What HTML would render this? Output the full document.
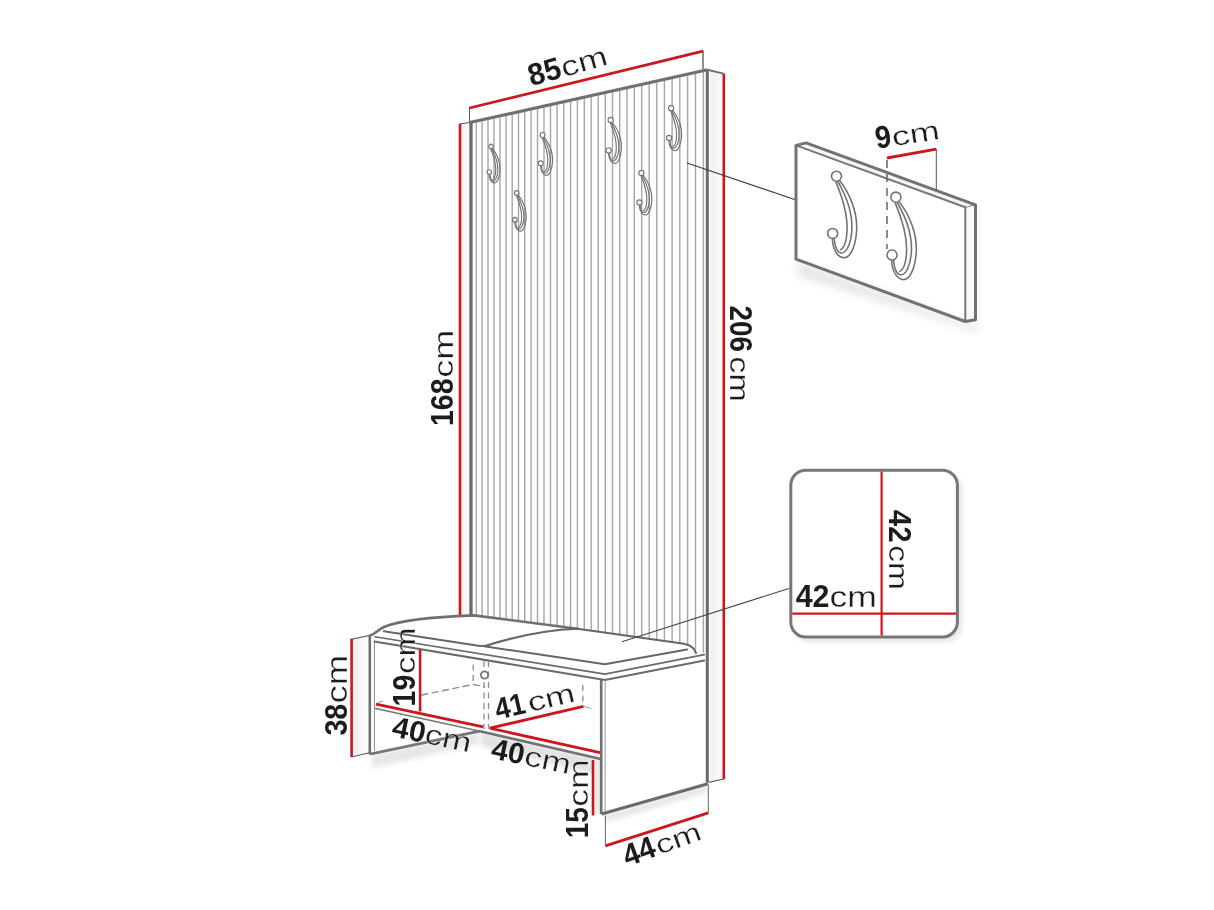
<!DOCTYPE html>
<html><head><meta charset="utf-8"><style>
html,body{margin:0;padding:0;background:#fff;}
svg{display:block;font-family:"Liberation Sans",sans-serif;will-change:transform;}
</style></head><body>
<svg width="1214" height="910" viewBox="0 0 1214 910">
<rect width="1214" height="910" fill="#fff"/>
<defs>
<linearGradient id="shb" x1="0" y1="0" x2="0" y2="1"><stop offset="0" stop-color="#d8d8d8"/><stop offset="1" stop-color="#fff" stop-opacity="0"/></linearGradient>
<filter id="blur4" x="-20%" y="-20%" width="140%" height="140%"><feGaussianBlur stdDeviation="4"/></filter>
<filter id="blur2" x="-20%" y="-20%" width="140%" height="140%"><feGaussianBlur stdDeviation="2.5"/></filter>
</defs>
<polygon points="372,755 479,732 479,744 372,768" fill="#e6e6e6" filter="url(#blur2)"/>
<polygon points="481,732 600,759 600,776 481,746" fill="#e2e2e2" filter="url(#blur2)"/>
<polygon points="594,760 600,760 600,813 594,815" fill="#ececec"/>
<polygon points="604,815 708,785 708,792 606,822" fill="#e4e4e4" filter="url(#blur2)"/>
<rect x="794" y="474" width="168" height="168" rx="15" fill="#e6e6e6" filter="url(#blur2)"/>
<polygon points="798,261 966,323 976,322 978,332 798,276" fill="#e6e6e6" filter="url(#blur4)"/>
<linearGradient id="sideg" x1="0" y1="0" x2="1" y2="0"><stop offset="0" stop-color="#efeff0"/><stop offset="1" stop-color="#fdfdfd"/></linearGradient>
<polygon points="710.5,70.5 723.5,73.6 723.8,779.2 710.5,782" fill="url(#sideg)"/>
<polygon points="460,123.8 469,122.7 469,615.5 460,615.5" fill="url(#sideg)"/>
<line x1="476.3" y1="122.5" x2="476.3" y2="615.7" stroke="#a6a6a6" stroke-width="1.4" />
<line x1="482.1" y1="121.3" x2="482.1" y2="616.5" stroke="#a6a6a6" stroke-width="1.4" />
<line x1="488.0" y1="120.0" x2="488.0" y2="617.2" stroke="#a6a6a6" stroke-width="1.4" />
<line x1="494.0" y1="118.6" x2="494.0" y2="618.0" stroke="#a6a6a6" stroke-width="1.4" />
<line x1="500.0" y1="117.3" x2="500.0" y2="618.8" stroke="#a6a6a6" stroke-width="1.4" />
<line x1="506.1" y1="115.9" x2="506.1" y2="619.5" stroke="#a6a6a6" stroke-width="1.4" />
<line x1="512.2" y1="114.6" x2="512.2" y2="620.3" stroke="#a6a6a6" stroke-width="1.4" />
<line x1="518.5" y1="113.2" x2="518.5" y2="621.1" stroke="#a6a6a6" stroke-width="1.4" />
<line x1="524.7" y1="111.8" x2="524.7" y2="621.9" stroke="#a6a6a6" stroke-width="1.4" />
<line x1="531.1" y1="110.4" x2="531.1" y2="622.8" stroke="#a6a6a6" stroke-width="1.4" />
<line x1="537.5" y1="109.0" x2="537.5" y2="623.6" stroke="#a6a6a6" stroke-width="1.4" />
<line x1="544.0" y1="107.5" x2="544.0" y2="624.4" stroke="#a6a6a6" stroke-width="1.4" />
<line x1="550.5" y1="106.1" x2="550.5" y2="625.2" stroke="#a6a6a6" stroke-width="1.4" />
<line x1="557.1" y1="104.6" x2="557.1" y2="626.1" stroke="#a6a6a6" stroke-width="1.4" />
<line x1="563.8" y1="103.1" x2="563.8" y2="626.9" stroke="#a6a6a6" stroke-width="1.4" />
<line x1="570.6" y1="101.6" x2="570.6" y2="627.8" stroke="#a6a6a6" stroke-width="1.4" />
<line x1="577.4" y1="100.1" x2="577.4" y2="628.7" stroke="#a6a6a6" stroke-width="1.4" />
<line x1="584.3" y1="98.6" x2="584.3" y2="629.7" stroke="#a6a6a6" stroke-width="1.4" />
<line x1="591.2" y1="97.0" x2="591.2" y2="630.6" stroke="#a6a6a6" stroke-width="1.4" />
<line x1="598.2" y1="95.5" x2="598.2" y2="631.6" stroke="#a6a6a6" stroke-width="1.4" />
<line x1="605.3" y1="93.9" x2="605.3" y2="632.6" stroke="#a6a6a6" stroke-width="1.4" />
<line x1="612.5" y1="92.3" x2="612.5" y2="633.7" stroke="#a6a6a6" stroke-width="1.4" />
<line x1="619.7" y1="90.7" x2="619.7" y2="634.7" stroke="#a6a6a6" stroke-width="1.4" />
<line x1="627.0" y1="89.1" x2="627.0" y2="635.7" stroke="#a6a6a6" stroke-width="1.4" />
<line x1="634.3" y1="87.5" x2="634.3" y2="636.8" stroke="#a6a6a6" stroke-width="1.4" />
<line x1="641.7" y1="85.8" x2="641.7" y2="637.8" stroke="#a6a6a6" stroke-width="1.4" />
<line x1="649.2" y1="84.1" x2="649.2" y2="638.9" stroke="#a6a6a6" stroke-width="1.4" />
<line x1="656.8" y1="82.5" x2="656.8" y2="639.9" stroke="#a6a6a6" stroke-width="1.4" />
<line x1="664.4" y1="80.8" x2="664.4" y2="641.0" stroke="#a6a6a6" stroke-width="1.4" />
<line x1="672.1" y1="79.1" x2="672.1" y2="642.1" stroke="#a6a6a6" stroke-width="1.4" />
<line x1="679.8" y1="77.4" x2="679.8" y2="643.2" stroke="#a6a6a6" stroke-width="1.4" />
<line x1="687.6" y1="75.6" x2="687.6" y2="645.5" stroke="#a6a6a6" stroke-width="1.4" />
<line x1="695.5" y1="73.9" x2="695.5" y2="649.1" stroke="#a6a6a6" stroke-width="1.4" />
<line x1="703.4" y1="72.1" x2="703.4" y2="652.8" stroke="#a6a6a6" stroke-width="1.4" />
<line x1="469.8" y1="122.5" x2="707.5" y2="69.7" stroke="#707070" stroke-width="3.2" />
<line x1="707.5" y1="69.7" x2="723.5" y2="73.6" stroke="#707070" stroke-width="2" />
<line x1="460.0" y1="123.8" x2="470.5" y2="122.5" stroke="#555" stroke-width="1" />
<line x1="471.0" y1="121.5" x2="471.0" y2="615.5" stroke="#6a6a6a" stroke-width="3.3" />
<line x1="707.3" y1="69.5" x2="707.3" y2="782.5" stroke="#6a6a6a" stroke-width="3" />
<line x1="708.4" y1="782.4" x2="723.7" y2="779.1" stroke="#444" stroke-width="1" />
<g transform="translate(491,146.4) scale(0.86)" fill="none" stroke="#737373" stroke-width="1.34"><path d="M1.6,2.2 C7,9 11,19 10.5,28 C10,37 7,42.5 4,42.5 C0.5,42.5 -2,38 -2.2,32.2"/><path d="M0.6,2.6 C5.5,11 8.4,20 8,28 C7.6,35 5.2,40 2.6,40 C0.4,40 -1,36.5 -1.2,32.4"/><path d="M-0.4,2.8 C3.5,12 5.8,20 5.5,28 C5.3,33 4,37.5 1.8,38.5"/><circle cx="0" cy="0" r="2.6" fill="#fff"/><circle cx="-2" cy="29.8" r="2.6" fill="#fff"/></g>
<g transform="translate(516.7,192.9) scale(0.9)" fill="none" stroke="#737373" stroke-width="1.28"><path d="M1.6,2.2 C7,9 11,19 10.5,28 C10,37 7,42.5 4,42.5 C0.5,42.5 -2,38 -2.2,32.2"/><path d="M0.6,2.6 C5.5,11 8.4,20 8,28 C7.6,35 5.2,40 2.6,40 C0.4,40 -1,36.5 -1.2,32.4"/><path d="M-0.4,2.8 C3.5,12 5.8,20 5.5,28 C5.3,33 4,37.5 1.8,38.5"/><circle cx="0" cy="0" r="2.6" fill="#fff"/><circle cx="-2" cy="29.8" r="2.6" fill="#fff"/></g>
<g transform="translate(542.6,135) scale(0.95)" fill="none" stroke="#737373" stroke-width="1.21"><path d="M1.6,2.2 C7,9 11,19 10.5,28 C10,37 7,42.5 4,42.5 C0.5,42.5 -2,38 -2.2,32.2"/><path d="M0.6,2.6 C5.5,11 8.4,20 8,28 C7.6,35 5.2,40 2.6,40 C0.4,40 -1,36.5 -1.2,32.4"/><path d="M-0.4,2.8 C3.5,12 5.8,20 5.5,28 C5.3,33 4,37.5 1.8,38.5"/><circle cx="0" cy="0" r="2.6" fill="#fff"/><circle cx="-2" cy="29.8" r="2.6" fill="#fff"/></g>
<g transform="translate(610.7,120) scale(1.02)" fill="none" stroke="#737373" stroke-width="1.13"><path d="M1.6,2.2 C7,9 11,19 10.5,28 C10,37 7,42.5 4,42.5 C0.5,42.5 -2,38 -2.2,32.2"/><path d="M0.6,2.6 C5.5,11 8.4,20 8,28 C7.6,35 5.2,40 2.6,40 C0.4,40 -1,36.5 -1.2,32.4"/><path d="M-0.4,2.8 C3.5,12 5.8,20 5.5,28 C5.3,33 4,37.5 1.8,38.5"/><circle cx="0" cy="0" r="2.6" fill="#fff"/><circle cx="-2" cy="29.8" r="2.6" fill="#fff"/></g>
<g transform="translate(671.1,108.2) scale(1.0)" fill="none" stroke="#737373" stroke-width="1.15"><path d="M1.6,2.2 C7,9 11,19 10.5,28 C10,37 7,42.5 4,42.5 C0.5,42.5 -2,38 -2.2,32.2"/><path d="M0.6,2.6 C5.5,11 8.4,20 8,28 C7.6,35 5.2,40 2.6,40 C0.4,40 -1,36.5 -1.2,32.4"/><path d="M-0.4,2.8 C3.5,12 5.8,20 5.5,28 C5.3,33 4,37.5 1.8,38.5"/><circle cx="0" cy="0" r="2.6" fill="#fff"/><circle cx="-2" cy="29.8" r="2.6" fill="#fff"/></g>
<g transform="translate(641.4,172.9) scale(0.99)" fill="none" stroke="#737373" stroke-width="1.16"><path d="M1.6,2.2 C7,9 11,19 10.5,28 C10,37 7,42.5 4,42.5 C0.5,42.5 -2,38 -2.2,32.2"/><path d="M0.6,2.6 C5.5,11 8.4,20 8,28 C7.6,35 5.2,40 2.6,40 C0.4,40 -1,36.5 -1.2,32.4"/><path d="M-0.4,2.8 C3.5,12 5.8,20 5.5,28 C5.3,33 4,37.5 1.8,38.5"/><circle cx="0" cy="0" r="2.6" fill="#fff"/><circle cx="-2" cy="29.8" r="2.6" fill="#fff"/></g>
<line x1="469.5" y1="108.0" x2="703.0" y2="51.2" stroke="#cc1620" stroke-width="2.8" />
<line x1="469.5" y1="107.0" x2="469.5" y2="122.0" stroke="#555" stroke-width="1" />
<line x1="703.0" y1="50.5" x2="703.0" y2="69.0" stroke="#555" stroke-width="1.3" />
<line x1="460.0" y1="123.8" x2="460.0" y2="615.0" stroke="#cc1620" stroke-width="2.6" />
<line x1="723.8" y1="73.6" x2="723.8" y2="779.2" stroke="#cc1620" stroke-width="2.6" />
<polygon points="352,639.3 369,635.6 369,753 352,757" fill="url(#sideg)"/>
<path d="M350.7,639.3 L370,635.4" stroke="#6a6a6a" stroke-width="1.2" fill="none" stroke-linejoin="round" stroke-linecap="round" />
<line x1="369.8" y1="635.0" x2="369.8" y2="754.5" stroke="#707070" stroke-width="2.6" />
<line x1="374.4" y1="641.6" x2="374.4" y2="751.0" stroke="#888" stroke-width="1" />
<line x1="351.6" y1="757.0" x2="369.4" y2="752.7" stroke="#555" stroke-width="1" />
<path d="M370,635.4 C376,634 377,630 384,627 C398,621 430,617 473.7,615.4 L577.5,628.7" stroke="#707070" stroke-width="2.6" fill="none" stroke-linejoin="round" stroke-linecap="round" />
<path d="M484,646.3 C510,638 540,630 577.5,628.7 L684,643.8 C692,645.5 695,649 696,653" stroke="#666" stroke-width="2" fill="none" stroke-linejoin="round" stroke-linecap="round" />
<path d="M383.8,631.2 L480,646.1 C482,645.6 484,645.5 486,646.6 L604.9,664.2 L687,649.6" stroke="#666" stroke-width="2" fill="none" stroke-linejoin="round" stroke-linecap="round" />
<path d="M374.9,636.7 L604.9,674.1 L704.3,654.6" stroke="#6a6a6a" stroke-width="1.6" fill="none" stroke-linejoin="round" stroke-linecap="round" />
<path d="M374.4,641.6 L604.9,679.9 L704.3,660.4" stroke="#6a6a6a" stroke-width="2" fill="none" stroke-linejoin="round" stroke-linecap="round" />
<line x1="601.2" y1="679.5" x2="601.2" y2="814.0" stroke="#707070" stroke-width="2.6" />
<line x1="605.2" y1="680.0" x2="605.2" y2="811.0" stroke="#999" stroke-width="1" />
<line x1="601.5" y1="814.0" x2="708.0" y2="783.8" stroke="#6a6a6a" stroke-width="3" />
<line x1="370.0" y1="754.2" x2="479.5" y2="731.1" stroke="#777" stroke-width="2.8" />
<path d="M375.7,708.5 L479,731" stroke="#777" stroke-width="1.6" fill="none" stroke-linejoin="round" stroke-linecap="round" />
<line x1="479.0" y1="731.0" x2="600.6" y2="759.0" stroke="#727272" stroke-width="2.8" />
<line x1="473.2" y1="664.6" x2="473.2" y2="684.4" stroke="#8c8c8c" stroke-width="1.3" stroke-dasharray="6,4.5"/>
<path d="M422,695 L473.2,684.4 L484.7,686.8" stroke="#8c8c8c" stroke-width="1.4" fill="none" stroke-linejoin="round" stroke-linecap="round" stroke-dasharray="6,4.5"/>
<line x1="484.0" y1="661.0" x2="484.0" y2="729.0" stroke="#8c8c8c" stroke-width="1.3" stroke-dasharray="6,4.5"/>
<line x1="488.5" y1="661.0" x2="488.5" y2="729.0" stroke="#8c8c8c" stroke-width="1.3" stroke-dasharray="6,4.5"/>
<line x1="582.8" y1="685.0" x2="582.8" y2="705.0" stroke="#8c8c8c" stroke-width="1.3" stroke-dasharray="6,4.5"/>
<circle cx="484.5" cy="675" r="3.6" fill="#fff" stroke="#777" stroke-width="1.8"/>
<line x1="376.0" y1="704.1" x2="483.2" y2="726.8" stroke="#cc1620" stroke-width="2.8" />
<line x1="489.8" y1="728.2" x2="600.0" y2="752.6" stroke="#cc1620" stroke-width="2.8" />
<line x1="489.8" y1="728.2" x2="583.5" y2="706.4" stroke="#cc1620" stroke-width="2.8" />
<line x1="583.5" y1="706.4" x2="591.4" y2="708.4" stroke="#999" stroke-width="1" />
<line x1="378.0" y1="702.5" x2="383.0" y2="701.0" stroke="#999" stroke-width="1" />
<line x1="420.1" y1="649.5" x2="420.1" y2="711.5" stroke="#cc1620" stroke-width="2.6" />
<line x1="351.6" y1="639.0" x2="351.6" y2="757.0" stroke="#cc1620" stroke-width="2.6" />
<line x1="593.0" y1="760.0" x2="593.0" y2="815.5" stroke="#cc1620" stroke-width="2.6" />
<line x1="605.4" y1="815.5" x2="605.4" y2="845.8" stroke="#666" stroke-width="1" />
<line x1="708.3" y1="785.0" x2="708.3" y2="812.8" stroke="#666" stroke-width="1" />
<line x1="605.4" y1="845.8" x2="708.3" y2="812.8" stroke="#cc1620" stroke-width="2.8" />
<line x1="687.0" y1="163.0" x2="796.0" y2="200.0" stroke="#3a3a3a" stroke-width="1.2" />
<line x1="622.0" y1="641.8" x2="789.0" y2="588.4" stroke="#444" stroke-width="1.1" />
<polygon points="796,145.4 806.1,142.9 975.5,204.8 965.3,207.3" fill="#f6f6f6"/>
<polygon points="965.3,207.3 975.5,204.8 975.5,319.8 965.3,322" fill="#f8f8f8"/>
<path d="M796,145.4 L965.3,207.3 L965.3,321" stroke="#777" stroke-width="2" fill="none" stroke-linejoin="round" stroke-linecap="round" />
<line x1="965.3" y1="207.3" x2="975.5" y2="204.8" stroke="#888" stroke-width="1" />
<path d="M796,259.1 L796,145.4 L806.1,142.9 L975.5,204.8 L975.5,319.8 L965.3,321.5 L796,259.1 Z" stroke="#727272" stroke-width="3" fill="none" stroke-linejoin="round" stroke-linecap="round" />
<g transform="translate(836.5,176.2) scale(1.92)" fill="none" stroke="#737373" stroke-width="0.83"><path d="M1.6,2.2 C7,9 11,19 10.5,28 C10,37 7,42.5 4,42.5 C0.5,42.5 -2,38 -2.2,32.2"/><path d="M0.6,2.6 C5.5,11 8.4,20 8,28 C7.6,35 5.2,40 2.6,40 C0.4,40 -1,36.5 -1.2,32.4"/><path d="M-0.4,2.8 C3.5,12 5.8,20 5.5,28 C5.3,33 4,37.5 1.8,38.5"/><circle cx="0" cy="0" r="2.6" fill="#fff"/><circle cx="-2" cy="29.8" r="2.6" fill="#fff"/></g>
<g transform="translate(895.9,197.2) scale(1.94)" fill="none" stroke="#737373" stroke-width="0.82"><path d="M1.6,2.2 C7,9 11,19 10.5,28 C10,37 7,42.5 4,42.5 C0.5,42.5 -2,38 -2.2,32.2"/><path d="M0.6,2.6 C5.5,11 8.4,20 8,28 C7.6,35 5.2,40 2.6,40 C0.4,40 -1,36.5 -1.2,32.4"/><path d="M-0.4,2.8 C3.5,12 5.8,20 5.5,28 C5.3,33 4,37.5 1.8,38.5"/><circle cx="0" cy="0" r="2.6" fill="#fff"/><circle cx="-2" cy="29.8" r="2.6" fill="#fff"/></g>
<line x1="887.0" y1="160.0" x2="887.0" y2="249.0" stroke="#666" stroke-width="1.5" stroke-dasharray="8,6"/>
<line x1="887.0" y1="158.0" x2="936.3" y2="149.2" stroke="#cc1620" stroke-width="2.8" />
<line x1="936.3" y1="149.0" x2="936.3" y2="191.0" stroke="#555" stroke-width="1" />
<rect x="790.8" y="470.2" width="166.6" height="166.8" rx="15" fill="#fff" stroke="#777" stroke-width="3"/>
<line x1="881.6" y1="471.7" x2="881.6" y2="635.5" stroke="#cc1620" stroke-width="2.2" />
<line x1="792.3" y1="613.7" x2="955.9" y2="613.7" stroke="#cc1620" stroke-width="2.2" />
<g transform="translate(532.20,86.10) rotate(-15.8)" fill="#1c1c1c"><g transform="translate(0.0,0) scale(0.9630,1)"><text x="-0.93" y="0" font-weight="bold" font-size="30.86" stroke="#1c1c1c" stroke-width="0.0">85</text></g><g transform="translate(34.20,0) scale(1.2761,1)"><text x="-1.11" y="0" font-size="27.78" stroke="#fff" stroke-width="0.3">cm</text></g></g>
<g transform="translate(453.20,424.30) rotate(-90)" fill="#1c1c1c"><g transform="translate(0.0,0) scale(0.9187,1)"><text x="-1.86" y="0" font-weight="bold" font-size="31.00" stroke="#1c1c1c" stroke-width="0.0">168</text></g><g transform="translate(47.90,0) scale(1.2938,1)"><text x="-1.12" y="0" font-size="27.96" stroke="#fff" stroke-width="0.3">cm</text></g></g>
<g transform="translate(729.90,306.40) rotate(90)" fill="#1c1c1c"><g transform="translate(0.0,0) scale(0.8672,1)"><text x="-0.96" y="0" font-weight="bold" font-size="32.00" stroke="#1c1c1c" stroke-width="0.0">206</text></g><g transform="translate(51.30,0) scale(1.2777,1)"><text x="-1.07" y="0" font-size="26.85" stroke="#fff" stroke-width="0.3">cm</text></g></g>
<g transform="translate(878.00,148.50) rotate(-8.8)" fill="#1c1c1c"><g transform="translate(0.0,0) scale(0.9148,1)"><text x="-1.26" y="0" font-weight="bold" font-size="31.43" stroke="#1c1c1c" stroke-width="0.0">9</text></g><g transform="translate(16.90,0) scale(1.3413,1)"><text x="-1.07" y="0" font-size="26.85" stroke="#fff" stroke-width="0.3">cm</text></g></g>
<g transform="translate(796.30,607.30) rotate(0)" fill="#1c1c1c"><g transform="translate(0.0,0) scale(0.9537,1)"><text x="-0.64" y="0" font-weight="bold" font-size="31.86" stroke="#1c1c1c" stroke-width="0.0">42</text></g><g transform="translate(34.50,0) scale(1.2298,1)"><text x="-1.16" y="0" font-size="28.89" stroke="#fff" stroke-width="0.3">cm</text></g></g>
<g transform="translate(889.00,510.40) rotate(90)" fill="#1c1c1c"><g transform="translate(0.0,0) scale(0.9333,1)"><text x="-0.63" y="0" font-weight="bold" font-size="31.43" stroke="#1c1c1c" stroke-width="0.0">42</text></g><g transform="translate(36.30,0) scale(1.1745,1)"><text x="-1.14" y="0" font-size="28.52" stroke="#fff" stroke-width="0.3">cm</text></g></g>
<g transform="translate(346.70,735.00) rotate(-90)" fill="#1c1c1c"><g transform="translate(0.0,0) scale(0.9209,1)"><text x="-0.62" y="0" font-weight="bold" font-size="31.14" stroke="#1c1c1c" stroke-width="0.0">38</text></g><g transform="translate(33.00,0) scale(1.2689,1)"><text x="-1.15" y="0" font-size="28.70" stroke="#fff" stroke-width="0.3">cm</text></g></g>
<g transform="translate(414.70,704.70) rotate(-90)" fill="#1c1c1c"><g transform="translate(0.0,0) scale(0.9156,1)"><text x="-1.87" y="0" font-weight="bold" font-size="31.14" stroke="#1c1c1c" stroke-width="0.0">19</text></g><g transform="translate(32.20,0) scale(1.2367,1)"><text x="-1.13" y="0" font-size="28.33" stroke="#fff" stroke-width="0.3">cm</text></g></g>
<g transform="translate(498.00,719.60) rotate(-13.3)" fill="#1c1c1c"><g transform="translate(0.0,0) scale(0.9013,1)"><text x="-0.60" y="0" font-weight="bold" font-size="30.14" stroke="#1c1c1c" stroke-width="0.0">41</text></g><g transform="translate(34.20,0) scale(1.3352,1)"><text x="-1.07" y="0" font-size="26.85" stroke="#fff" stroke-width="0.3">cm</text></g></g>
<g transform="translate(391.40,736.10) rotate(11.8)" fill="#1c1c1c"><g transform="translate(0.0,0) scale(1.0244,1)"><text x="-0.59" y="0" font-weight="bold" font-size="29.29" stroke="#1c1c1c" stroke-width="0.0">40</text></g><g transform="translate(34.30,0) scale(1.2615,1)"><text x="-1.11" y="0" font-size="27.78" stroke="#fff" stroke-width="0.3">cm</text></g></g>
<g transform="translate(490.70,758.10) rotate(11.5)" fill="#1c1c1c"><g transform="translate(0.0,0) scale(1.0179,1)"><text x="-0.59" y="0" font-weight="bold" font-size="29.29" stroke="#1c1c1c" stroke-width="0.0">40</text></g><g transform="translate(34.30,0) scale(1.2673,1)"><text x="-1.11" y="0" font-size="27.78" stroke="#fff" stroke-width="0.3">cm</text></g></g>
<g transform="translate(588.40,836.60) rotate(-90)" fill="#1c1c1c"><g transform="translate(0.0,0) scale(0.9072,1)"><text x="-1.86" y="0" font-weight="bold" font-size="31.01" stroke="#1c1c1c" stroke-width="0.0">15</text></g><g transform="translate(31.30,0) scale(1.2735,1)"><text x="-1.12" y="0" font-size="27.96" stroke="#fff" stroke-width="0.3">cm</text></g></g>
<g transform="translate(627.80,866.50) rotate(-20.1)" fill="#1c1c1c"><g transform="translate(0.0,0) scale(0.9525,1)"><text x="-0.61" y="0" font-weight="bold" font-size="30.72" stroke="#1c1c1c" stroke-width="0.0">44</text></g><g transform="translate(35.00,0) scale(1.3050,1)"><text x="-1.07" y="0" font-size="26.85" stroke="#fff" stroke-width="0.3">cm</text></g></g>
</svg></body></html>
